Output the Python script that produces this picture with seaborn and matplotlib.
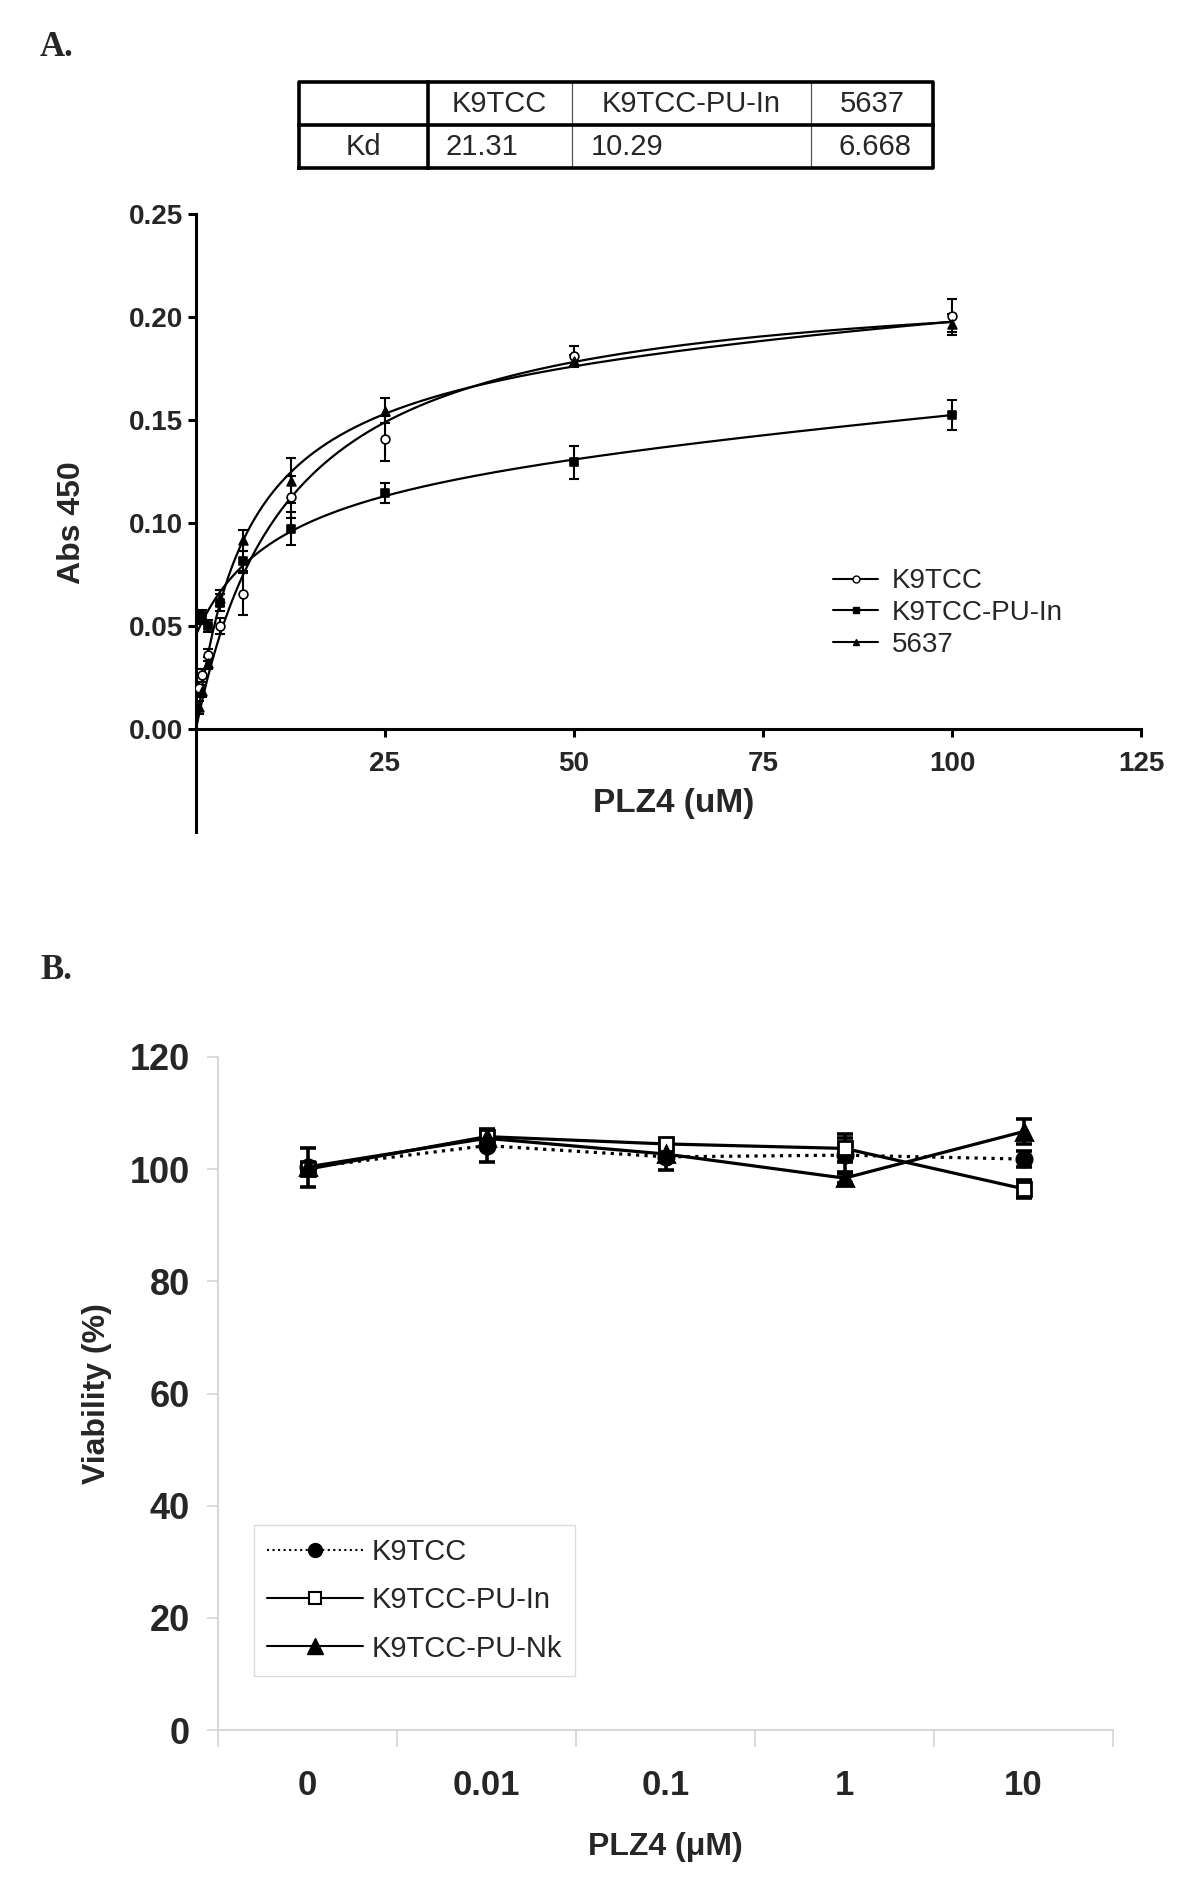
import numpy as np
import pandas as pd
import matplotlib
matplotlib.use("Agg")
import matplotlib.pyplot as plt
import seaborn as sns
from matplotlib.lines import Line2D

# ---------------- Panel A data ----------------
conc_a = [100, 50, 25, 12.5, 6.25, 3.125, 1.5625, 0.78125, 0.390625]
abs_k9tcc = [0.2005, 0.181, 0.141, 0.1126, 0.0655, 0.050, 0.036, 0.026, 0.020]
err_k9tcc = [0.008, 0.005, 0.011, 0.010, 0.010, 0.004, 0.003, 0.003, 0.003]
abs_puin = [0.1526, 0.1295, 0.1145, 0.0973, 0.0815, 0.0613, 0.050, 0.055, 0.054]
err_puin = [0.0073, 0.008, 0.005, 0.008, 0.005, 0.004, 0.003, 0.003, 0.003]
abs_5637 = [0.1965, 0.1787, 0.1545, 0.1206, 0.0916, 0.0637, 0.032, 0.0185, 0.0105]
err_5637 = [0.005, 0.003, 0.006, 0.011, 0.005, 0.004, 0.003, 0.003, 0.003]

table_cols = ["K9TCC", "K9TCC-PU-In", "5637"]
kd_values = [21.31, 10.29, 6.668]
kd_text = ["21.31", "10.29", "6.668"]

a_yticks = [0.00, 0.05, 0.10, 0.15, 0.20, 0.25]
a_xticks = [25, 50, 75, 100, 125]

# ---------------- Panel B data ----------------
doses_b = ["0", "0.01", "0.1", "1", "10"]
via_k9tcc = [100.3, 104.2, 102.2, 102.5, 101.8]
verr_k9tcc = [3.5, 3.0, 2.3, 3.0, 1.5]
via_puin = [100.0, 105.8, 104.5, 103.7, 96.5]
verr_puin = [1.0, 1.2, 0.8, 2.5, 1.6]
via_punk = [100.4, 105.5, 102.7, 98.4, 106.7]
verr_punk = [0.8, 1.0, 1.0, 0.8, 2.2]
b_yticks = [0, 20, 40, 60, 80, 100, 120]

sns.set_theme(style="ticks")
plt.rcParams['font.family'] = ['Liberation Sans', 'DejaVu Sans']
plt.rcParams['axes.unicode_minus'] = False

fig = plt.figure(figsize=(12, 19), dpi=100)
W, H = 1200, 1900

XS = np.linspace(0, 100, 400)

def fit_hyper_linear(x, y, kd, offset):
    x = np.asarray(x, float); y = np.asarray(y, float)
    cols = [x / (kd + x), x] + ([np.ones_like(x)] if offset else [])
    coef, *_ = np.linalg.lstsq(np.column_stack(cols), y, rcond=None)
    B = [XS / (kd + XS), XS] + ([np.ones_like(XS)] if offset else [])
    return np.column_stack(B) @ coef

def fit_hyper_free(x, y):
    x = np.asarray(x, float); y = np.asarray(y, float)
    best = None
    for k in np.linspace(1, 60, 600):
        f = x / (k + x)
        bmax = (y @ f) / (f @ f)
        sse = np.sum((y - bmax * f) ** 2)
        if best is None or sse < best[0]:
            best = (sse, k, bmax)
    _, k, bmax = best
    return bmax * XS / (k + XS)

# ---------------- Panel A ----------------
ax = fig.add_axes([196 / W, 1 - 832 / H, 945 / W, 618 / H])
curves = {
    "K9TCC": fit_hyper_free(conc_a, abs_k9tcc),
    "K9TCC-PU-In": fit_hyper_linear(conc_a, abs_puin, kd_values[1], True),
    "5637": fit_hyper_linear(conc_a, abs_5637, kd_values[2], False),
}
series_a = [
    ("K9TCC", abs_k9tcc, err_k9tcc, dict(marker='o', facecolor='white')),
    ("K9TCC-PU-In", abs_puin, err_puin, dict(marker='s', facecolor='black')),
    ("5637", abs_5637, err_5637, dict(marker='^', facecolor='black')),
]
for name, yv, ev, mk in series_a:
    sns.lineplot(x=XS, y=curves[name], ax=ax, color='black', linewidth=1.6, sort=False, zorder=2)
    ax.errorbar(conc_a, yv, yerr=ev, fmt='none', ecolor='black', elinewidth=1.5,
                capsize=3.5, capthick=1.5, zorder=3)
    sns.scatterplot(x=conc_a, y=yv, ax=ax, marker=mk['marker'], s=40,
                    facecolor=mk['facecolor'], edgecolor='black', linewidth=1.2, zorder=4)

ax.set_xlim(0, 125)
ax.set_ylim(-0.05, 0.25)
ax.spines['right'].set_visible(False)
ax.spines['top'].set_visible(False)
ax.spines['bottom'].set_position(('data', 0))
ax.spines['left'].set_bounds(-0.05, 0.25)
for s in ('left', 'bottom'):
    ax.spines[s].set_linewidth(2.2)
    ax.spines[s].set_color('black')
ax.set_yticks(a_yticks)
ax.set_yticklabels([f"{v:.2f}" for v in a_yticks])
ax.set_xticks(a_xticks)
ax.set_xticklabels([str(v) for v in a_xticks])
ax.tick_params(axis='both', direction='out', length=6, width=2.2, color='black',
               labelsize=20)
ax.tick_params(axis='x', pad=10)
ax.tick_params(axis='y', pad=3)
for lab in ax.get_xticklabels() + ax.get_yticklabels():
    lab.set_fontweight('bold')
ax.set_ylabel("Abs 450", fontsize=23, fontweight='bold')
ax.yaxis.set_label_coords(-0.115, 0.5)
ax.set_xlabel("PLZ4 (uM)", fontsize=24, fontweight='bold')
ax.xaxis.set_label_coords(0.505, 0.072)

handles_a = [
    Line2D([], [], color='black', lw=1.5, marker='o', ms=5, mfc='white', mec='black'),
    Line2D([], [], color='black', lw=1.5, marker='s', ms=5, mfc='black', mec='black'),
    Line2D([], [], color='black', lw=1.5, marker='^', ms=4, mfc='black', mec='black'),
]
ax.legend(handles_a, table_cols, loc='upper left', bbox_to_anchor=(0.648, 0.467),
          frameon=False, fontsize=20, handlelength=1.6, handletextpad=0.5,
          labelspacing=0.2)

# ---------------- Kd table ----------------
tx0, tx1, ty0, ty1 = 299, 933, 82, 168
tax = fig.add_axes([tx0 / W, 1 - ty1 / H, (tx1 - tx0) / W, (ty1 - ty0) / H])
tax.set_xlim(0, 1); tax.set_ylim(0, 1); tax.axis('off')
bounds = [0, 0.2027, 0.430, 0.807, 1.0]
for b in bounds[2:4]:
    tax.plot([b, b], [0, 1], color='#555555', lw=0.9, clip_on=False)
thick = dict(color='black', lw=2.6, clip_on=False, solid_capstyle='projecting')
tax.plot([0, 1, 1, 0, 0], [0, 0, 1, 1, 0], **thick)
tax.plot([0, 1], [0.5, 0.5], **thick)
tax.plot([bounds[1], bounds[1]], [0, 1], **thick)
for i, name in enumerate(table_cols):
    cx = (bounds[i + 1] + bounds[i + 2]) / 2
    tax.text(cx, 0.74, name, ha='center', va='center', fontsize=21)
tax.text((bounds[0] + bounds[1]) / 2, 0.24, "Kd", ha='center', va='center', fontsize=21)
tax.text(bounds[1] + 0.028, 0.24, kd_text[0], ha='left', va='center', fontsize=21)
tax.text(bounds[2] + 0.03, 0.24, kd_text[1], ha='left', va='center', fontsize=21)
tax.text((bounds[3] + bounds[4]) / 2 + 0.005, 0.24, kd_text[2], ha='center', va='center', fontsize=21)

# ---------------- Panel B ----------------
bx = fig.add_axes([218 / W, 1 - 1730 / H, 895 / W, 673 / H])
pos = list(range(len(doses_b)))
df_b = pd.DataFrame({
    "dose": pos * 3,
    "viability": via_k9tcc + via_puin + via_punk,
    "err": verr_k9tcc + verr_puin + verr_punk,
    "line": ["K9TCC"] * 5 + ["K9TCC-PU-In"] * 5 + ["K9TCC-PU-Nk"] * 5,
})
styles_b = {
    "K9TCC": dict(ls=':', marker='o', mfc='black', ms=11),
    "K9TCC-PU-In": dict(ls='-', marker='s', mfc='white', ms=10),
    "K9TCC-PU-Nk": dict(ls='-', marker='^', mfc='black', ms=12),
}
for name, st in styles_b.items():
    d = df_b[df_b["line"] == name]
    bx.errorbar(d["dose"], d["viability"], yerr=d["err"], fmt='none', ecolor='black',
                elinewidth=2.6, capsize=6, capthick=2.6, zorder=2)
    sns.lineplot(data=d, x="dose", y="viability", ax=bx, color='black', linewidth=2.3,
                 linestyle=st['ls'], marker=st['marker'], markersize=st['ms'],
                 markerfacecolor=st['mfc'], markeredgecolor='black', markeredgewidth=2,
                 sort=False, zorder=3)

bx.set_xlim(-0.5, 4.5)
bx.set_ylim(0, 120)
bx.spines['right'].set_visible(False)
bx.spines['top'].set_visible(False)
for s in ('left', 'bottom'):
    bx.spines[s].set_color('#d4d4d4')
    bx.spines[s].set_linewidth(1.3)
bx.set_yticks(b_yticks)
bx.set_yticklabels([str(v) for v in b_yticks])
bx.tick_params(axis='y', direction='out', length=8, width=1.2, color='#d4d4d4',
               labelsize=26, pad=12)
bx.set_xticks([p - 0.5 for p in pos] + [4.5])
bx.set_xticklabels([])
bx.set_xticks(pos, minor=True)
bx.set_xticklabels(doses_b, minor=True)
bx.tick_params(axis='x', which='major', direction='out', length=12, width=1.2,
               color='#d4d4d4')
bx.tick_params(axis='x', which='minor', length=0, labelsize=25, pad=28)
for lab in bx.get_yticklabels() + bx.get_xticklabels(minor=True):
    lab.set_fontweight('bold')
bx.set_ylabel("Viability (%)", fontsize=23, fontweight='bold')
bx.yaxis.set_label_coords(-0.118, 0.5)
bx.set_xlabel("PLZ4 (μM)", fontsize=23, fontweight='bold', labelpad=22)

handles_b = [
    Line2D([], [], color='black', lw=1.5, ls=':', marker='o', ms=10, mfc='black', mec='black'),
    Line2D([], [], color='black', lw=1.5, ls='-', marker='s', ms=9, mfc='white', mec='black', mew=1.5),
    Line2D([], [], color='black', lw=1.5, ls='-', marker='^', ms=11, mfc='black', mec='black'),
]
leg = bx.legend(handles_b, ["K9TCC", "K9TCC-PU-In", "K9TCC-PU-Nk"], loc='upper left',
                bbox_to_anchor=(0.04, 0.305), frameon=True, fancybox=False, fontsize=21,
                handlelength=3.3, handletextpad=0.3, labelspacing=0.7,
                borderpad=0.45, borderaxespad=0)
leg.get_frame().set_edgecolor('#d4d4d4')
leg.get_frame().set_linewidth(1.0)

# ---------------- Panel letters ----------------
fig.text(40 / W, 1 - 47 / H, "A.", fontsize=25, fontweight='bold',
         family=['Liberation Serif', 'DejaVu Serif'], va='center', ha='left')
fig.text(40 / W, 1 - 970 / H, "B.", fontsize=25, fontweight='bold',
         family=['Liberation Serif', 'DejaVu Serif'], va='center', ha='left')

fig.savefig("out.png", dpi=100, facecolor='white')
